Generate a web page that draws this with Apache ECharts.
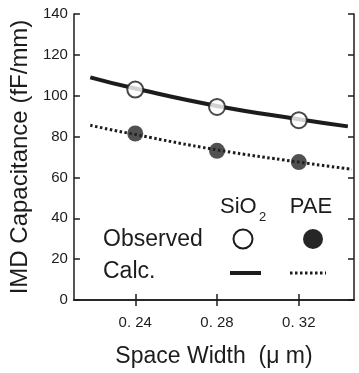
<!DOCTYPE html>
<html>
<head>
<meta charset="utf-8">
<script src="https://cdn.jsdelivr.net/npm/echarts@6/dist/echarts.min.js"></script>
<style>
  html, body { margin: 0; padding: 0; background: #fff; }
  #chart { width: 359px; height: 373px; }
</style>
</head>
<body>
<div id="chart"></div>
<script>
// values
const obsWidth = [0.24, 0.28, 0.32]
const sio2Observed = [103, 94.5, 88]
const paeObserved = [81.5, 73, 67.5]
const sio2CalcWidth = [0.218, 0.24, 0.28, 0.32, 0.344]
const sio2Calc = [109, 103.5, 95, 88.5, 85]
const paeCalcWidth = [0.218, 0.24, 0.28, 0.32, 0.346]
const paeCalc = [85.5, 81, 73.5, 67.5, 64]
const xTicks = [0.24, 0.28, 0.32]
const xTickLabels = ['0. 24', '0. 28', '0. 32']

const pairs = (xs, ys) => xs.map((x, i) => [x, ys[i]])
const ink = '#1c1c1c'
const font = "'Liberation Sans', Arial, sans-serif"

const chart = echarts.init(document.getElementById('chart'))

const axisLine = { lineStyle: { color: ink, width: 1.5 } }
const tick = { inside: true, length: 6, lineStyle: { color: ink, width: 1.5 } }

chart.setOption({
  animation: false,
  textStyle: { fontFamily: font, color: ink },
  grid: { left: 69, right: 5, top: 14, bottom: 72 },
  xAxis: [
    {
      type: 'value', min: 0.21, max: 0.347,
      axisLine,
      axisTick: { ...tick, customValues: xTicks },
      axisLabel: {
        customValues: xTicks,
        margin: 15, fontSize: 15, color: ink, fontFamily: font,
        formatter: v => xTickLabels[xTicks.findIndex(t => Math.abs(t - v) < 1e-6)] || ''
      },
      splitLine: { show: false },
      name: 'Space Width  (μ m)',
      nameLocation: 'middle', nameGap: 45,
      nameTextStyle: { fontSize: 23, color: ink, fontFamily: font }
    },
    {
      type: 'value', position: 'top', min: 0.21, max: 0.347,
      axisLine,
      axisTick: { ...tick, customValues: xTicks },
      axisLabel: { show: false },
      splitLine: { show: false }
    }
  ],
  yAxis: [
    {
      type: 'value', min: 0, max: 140, interval: 20,
      axisLine: { show: true, ...axisLine },
      axisTick: { show: true, ...tick },
      axisLabel: { margin: 6, fontSize: 15, color: ink, fontFamily: font },
      splitLine: { show: false },
      name: 'IMD Capacitance (fF/mm)',
      nameLocation: 'middle', nameGap: 39,
      nameTextStyle: { fontSize: 24, color: ink, fontFamily: font }
    },
    {
      type: 'value', position: 'right', min: 0, max: 140, interval: 20,
      axisLine: { show: true, ...axisLine },
      axisTick: { show: true, ...tick },
      axisLabel: { show: false },
      splitLine: { show: false }
    }
  ],
  series: [
    {
      name: 'SiO2 Calc.', type: 'line', smooth: true, symbol: 'none',
      data: pairs(sio2CalcWidth, sio2Calc),
      lineStyle: { color: ink, width: 4 }, z: 2
    },
    {
      name: 'PAE Calc.', type: 'line', smooth: true, symbol: 'none',
      data: pairs(paeCalcWidth, paeCalc),
      lineStyle: { color: ink, width: 3, type: [2.5, 2.5] }, z: 2
    },
    {
      name: 'SiO2 Observed', type: 'scatter', symbol: 'circle', symbolSize: 16,
      data: pairs(obsWidth, sio2Observed),
      itemStyle: { color: '#fff', borderColor: ink, borderWidth: 2 }, z: 3
    },
    {
      name: 'PAE Observed', type: 'scatter', symbol: 'circle', symbolSize: 16,
      data: pairs(obsWidth, paeObserved),
      itemStyle: { color: '#262626' }, z: 3
    }
  ],
  graphic: [
    { type: 'text', x: 220, y: 207, style: { text: 'SiO', font: `22px ${font}`, fill: ink, textVerticalAlign: 'middle' } },
    { type: 'text', x: 259, y: 217, style: { text: '2', font: `13px ${font}`, fill: ink, textVerticalAlign: 'middle' } },
    { type: 'text', x: 311, y: 207, style: { text: 'PAE', font: `22px ${font}`, fill: ink, textAlign: 'center', textVerticalAlign: 'middle' } },
    { type: 'text', x: 103, y: 240, style: { text: 'Observed', font: `23px ${font}`, fill: ink, textVerticalAlign: 'middle' } },
    { type: 'text', x: 103, y: 272, style: { text: 'Calc.', font: `23px ${font}`, fill: ink, textVerticalAlign: 'middle' } },
    { type: 'circle', shape: { cx: 243, cy: 239, r: 9.5 }, style: { fill: '#fff', stroke: ink, lineWidth: 2 } },
    { type: 'circle', shape: { cx: 313, cy: 239, r: 10 }, style: { fill: '#262626' } },
    { type: 'line', shape: { x1: 230, y1: 273, x2: 261, y2: 273 }, style: { stroke: ink, lineWidth: 4 } },
    { type: 'line', shape: { x1: 290, y1: 273, x2: 326, y2: 273 }, style: { stroke: ink, lineWidth: 3, lineDash: [2.5, 2.5] } }
  ]
})
</script>
</body>
</html>
